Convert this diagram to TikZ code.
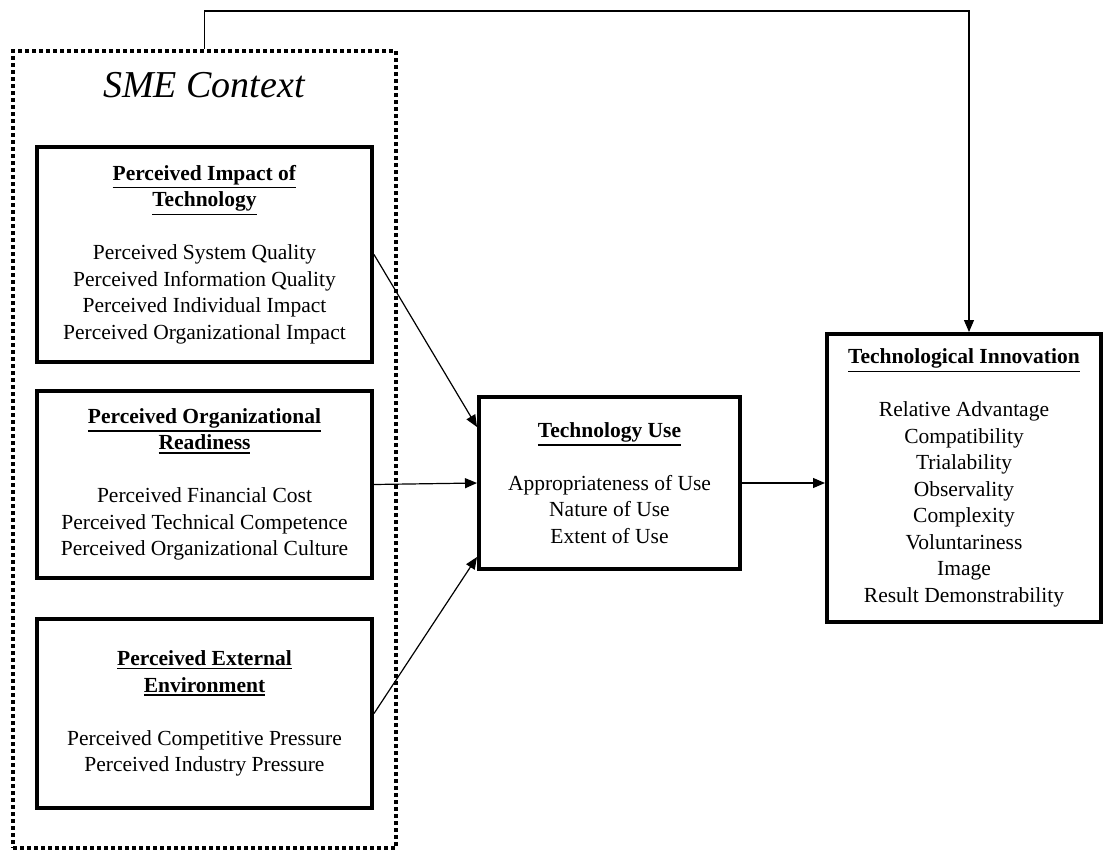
\documentclass[tikz,border=0pt]{standalone}
\usepackage{fontspec}
\setmainfont{Liberation Serif}
\usetikzlibrary{arrows.meta}

\newcommand\hd[1]{\leavevmode\vtop{\hbox{\textbf{#1}}\kern2pt\hrule height 1.6pt}}

\begin{document}
\begin{tikzpicture}[x=1pt,y=-1pt,
  box/.style={draw,line width=4pt,align=center,inner sep=0pt,font=\fontsize{21.5}{26.5}\selectfont},
  link/.style={-{Triangle[length=12pt,width=10pt]},line width=1.2pt}]
\useasboundingbox (0,0) rectangle (1103,852);
% dotted context frame
\node [draw,line width=4pt,dash pattern=on 4pt off 3pt,minimum width=383pt,minimum height=797pt,inner sep=0pt] (sme) at (204.5,449.5) {};
\node [anchor=base,font=\fontsize{38}{40}\selectfont\itshape] (ctx) at (204,97) {SME Context};
% the three factors
\node [box,minimum width=335pt,minimum height=215pt] (imp) at (204.5,254.5)
  {\hd{Perceived Impact of}\\ \hd{Technology}\\[26.5pt]
   Perceived System Quality\\ Perceived Information Quality\\
   Perceived Individual Impact\\ Perceived Organizational Impact};
\node [box,minimum width=335pt,minimum height=187pt] (rdy) at (204.5,484.5)
  {\hd{Perceived Organizational}\\ \hd{Readiness}\\[26.5pt]
   Perceived Financial Cost\\ Perceived Technical Competence\\
   Perceived Organizational Culture};
\node [box,minimum width=335pt,minimum height=189pt] (env) at (204.5,713.5)
  {\hd{Perceived External}\\ \hd{Environment}\\[26.5pt]
   Perceived Competitive Pressure\\ Perceived Industry Pressure};
% use and innovation
\node [box,minimum width=261pt,minimum height=172pt] (use) at (609.5,483)
  {\hd{Technology Use}\\[26.5pt]
   Appropriateness of Use\\ Nature of Use\\ Extent of Use};
\node [box,minimum width=274pt,minimum height=288pt] (inn) at (964,478)
  {\hd{Technological Innovation}\\[26.5pt]
   Relative Advantage\\ Compatibility\\ Trialability\\ Observality\\
   Complexity\\ Voluntariness\\ Image\\ Result Demonstrability};
% arrows
\draw [link] (imp.east) -- ([yshift=56pt]use.west);
\draw [link] (rdy.east) -- (use.west);
\draw [link] (env.east) -- ([yshift=-74pt]use.west);
\draw [link] (use.east) -- (use.east -| inn.west);
\draw [link] (sme.north) -- ++(0,-38) -| ([xshift=5pt]inn.north);
\end{tikzpicture}
\end{document}
